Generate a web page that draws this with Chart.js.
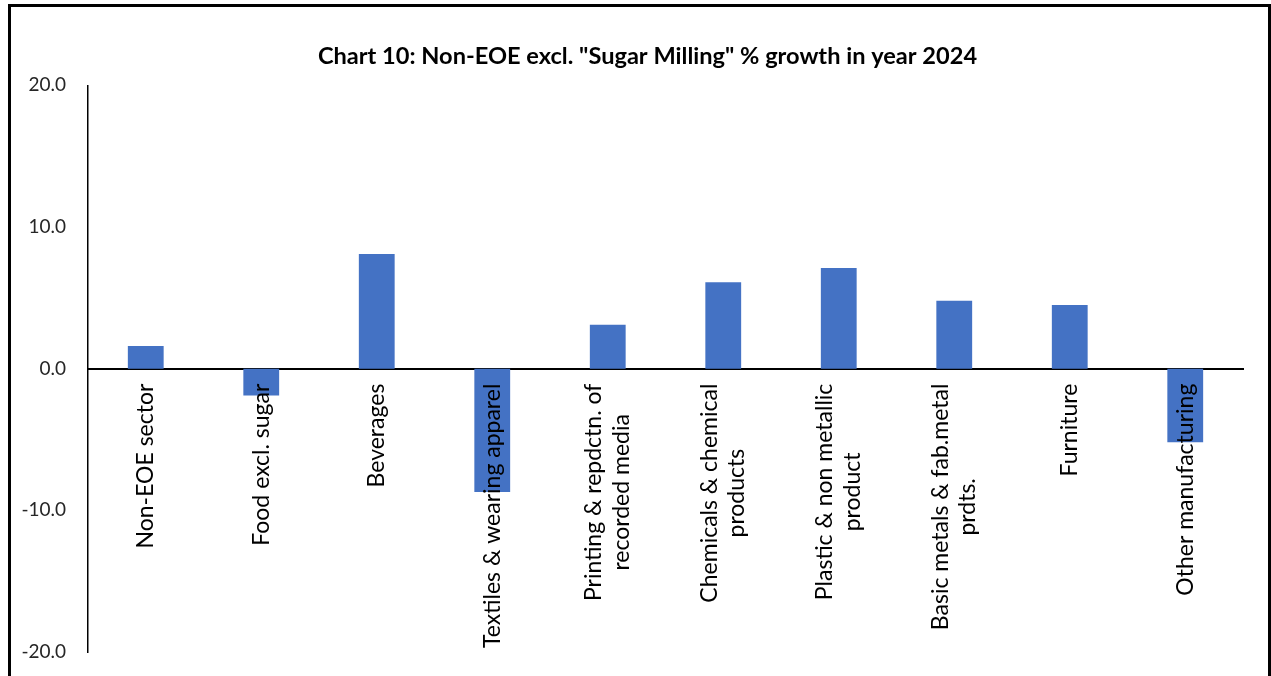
<!DOCTYPE html>
<html>
<head>
<meta charset="utf-8">
<script src="https://cdn.jsdelivr.net/npm/chart.js@4"></script>
<style>
  html, body { margin: 0; padding: 0; background: #fff; overflow: hidden; }
  #wrap { position: relative; width: 1271px; height: 676px; }
  #frame {
    position: absolute; left: 8px; top: 4px; width: 1257px; height: 720px;
    border: 3px solid #000; pointer-events: none;
  }
</style>
</head>
<body>
<div id="wrap">
  <canvas id="growthChart" width="1271" height="676"></canvas>
  <div id="frame"></div>
</div>
<script>
// Chart 10 data
const categories = [
    'Non-EOE sector',
    'Food excl. sugar',
    'Beverages',
    'Textiles & wearing apparel',
    ['Printing & repdctn. of', 'recorded media'],
    ['Chemicals & chemical', 'products'],
    ['Plastic & non metallic', 'product'],
    ['Basic metals & fab.metal', 'prdts.'],
    'Furniture',
    'Other manufacturing'
];
const growth2024 = [1.6, -1.9, 8.1, -8.7, 3.1, 6.1, 7.1, 4.8, 4.5, -5.2];
const yTicks = [-20, -10, 0, 10, 20];

const FONT = 'Lato, "Open Sans", sans-serif';

/**
 * Excel centres wrapped category labels on the tick, Chart.js right-aligns them
 */
const centerRotatedLabels = {
    id: 'centerRotatedLabels',
    beforeDraw(chart) {
        const scale = chart.scales.x;
        const ctx = chart.ctx;
        scale.getLabelItems().forEach(item => {
            if (item.options.textAlign !== 'right') return;
            const lines = Array.isArray(item.label) ? item.label : [item.label];
            ctx.save();
            ctx.font = item.font.string;
            const maxW = Math.max(...lines.map(l => ctx.measureText(l).width));
            ctx.restore();
            const [tx, ty] = item.options.translation;
            item.options.textAlign = 'center';
            item.options.translation = [tx - (lines.length - 1) * item.font.lineHeight / 2, ty + maxW / 2];
        });
    }
};

const ctx = document.getElementById('growthChart').getContext('2d');
new Chart(ctx, {
    type: 'bar',
    data: {
        labels: categories,
        datasets: [{
            label: '% growth',
            data: growth2024,
            backgroundColor: '#4472C4',
            barPercentage: 0.31,
            categoryPercentage: 1
        }]
    },
    options: {
        responsive: false,
        animation: false,
        // negative right padding only moves the title centre to match the original
        layout: { padding: { top: 0, left: 14, right: -10, bottom: 24 } },
        plugins: {
            legend: { display: false },
            tooltip: { enabled: false },
            title: {
                display: true,
                text: 'Chart 10: Non-EOE excl. "Sugar Milling" % growth in year 2024',
                color: '#000',
                font: { family: FONT, size: 23.6, weight: 'bold' },
                padding: { top: 42, bottom: 15 }
            }
        },
        scales: {
            x: {
                position: { y: 0 },
                grid: { display: false, drawTicks: false },
                border: { display: true, color: '#000', width: 2 },
                ticks: {
                    autoSkip: false,
                    maxRotation: 90,
                    minRotation: 90,
                    padding: 15,
                    color: '#000',
                    z: 1,
                    font: { family: FONT, size: 23 }
                }
            },
            y: {
                min: -20,
                max: 20,
                grid: { display: false, drawTicks: false },
                border: { display: true, color: '#000', width: 1.5 },
                afterFit: scale => {
                    scale.width = 74;
                    scale.paddingTop = 0;
                    scale.paddingBottom = 0;
                },
                afterBuildTicks: scale => { scale.ticks = yTicks.map(v => ({ value: v })); },
                ticks: {
                    padding: 22,
                    color: '#262626',
                    font: { family: FONT, size: 19 },
                    callback: v => v.toFixed(1)
                }
            },
            // empty right-hand axis keeps the plot clear of the frame
            yRight: {
                position: 'right',
                display: true,
                grid: { display: false, drawTicks: false },
                border: { display: false },
                ticks: { display: false },
                afterFit: scale => { scale.width = 38; }
            }
        }
    },
    plugins: [centerRotatedLabels]
});
</script>
</body>
</html>
